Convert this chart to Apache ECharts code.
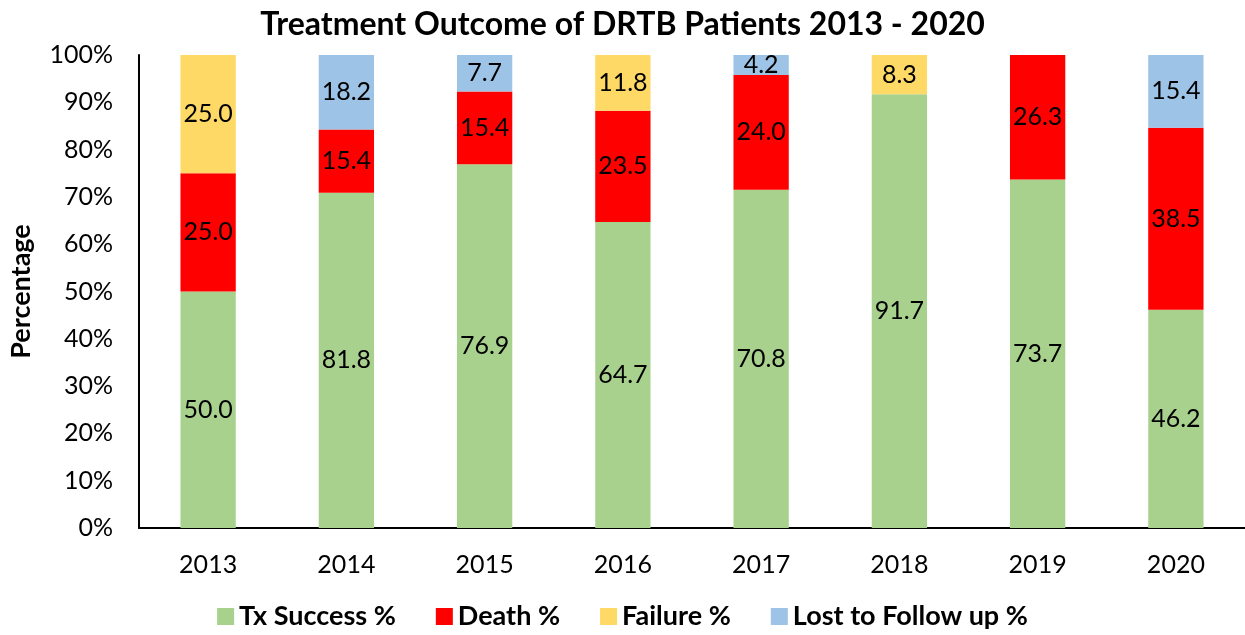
<!DOCTYPE html>
<html><head><meta charset="utf-8">
<script src="https://cdn.jsdelivr.net/npm/echarts@6/dist/echarts.min.js"></script>
<style>html,body{margin:0;padding:0;background:#fff}#c{width:1245px;height:635px}</style>
</head><body><div id="c"></div>
<script>
const categories = ['2013','2014','2015','2016','2017','2018','2019','2020'];
const txSuccess = [50.0, 81.8, 76.9, 64.7, 70.8, 91.7, 73.7, 46.2];
const death     = [25.0, 15.4, 15.4, 23.5, 24.0, null, 26.3, 38.5];
const failure   = [25.0, null, null, 11.8, null, 8.3, null, null];
const lost      = [null, 18.2, 7.7, null, 4.2, null, null, 15.4];
const seriesNames = ['Tx Success %','Death %','Failure %','Lost to Follow up %'];
const colors = ['#A9D18E','#FF0000','#FFD966','#9DC3E6'];
const raw = [txSuccess, death, failure, lost];
const totals = categories.map((c,i)=>raw.reduce((s,a)=>s+(a[i]||0),0));
const FONT = 'Lato';
const series = raw.map((arr,k)=>({
  name: seriesNames[k], type:'bar', stack:'total', barWidth:'40%',
  itemStyle:{color:colors[k]},
  data: arr.map((v,i)=> v==null ? null : v/totals[i]*100),
  label:{show:true, position:'inside', color:'#000', fontFamily:FONT, fontSize:25,
    formatter: p => { const v = arr[p.dataIndex]; return v==null ? '' : v.toFixed(1); }}
}));
const chart = echarts.init(document.getElementById('c'));
chart.setOption({
  animation:false,
  title:{text:'Treatment Outcome of DRTB Patients 2013 - 2020', left:'center', top:4,
    textStyle:{fontFamily:FONT, fontWeight:'bold', fontSize:32, color:'#000'}},
  legend:{bottom:0, left:'center', icon:'rect', itemWidth:17, itemHeight:17, itemGap:40,
    textStyle:{fontFamily:FONT, fontWeight:'bold', fontSize:27, color:'#000'}},
  grid:{left:138, right:0, top:55, bottom:107},
  xAxis:{type:'category', data:categories,
    axisLine:{lineStyle:{color:'#000', width:2}}, axisTick:{show:false},
    axisLabel:{fontFamily:FONT, fontSize:25, color:'#000', margin:24}},
  yAxis:{type:'value', min:0, max:100, interval:10,
    name:'Percentage', nameLocation:'middle', nameGap:104, nameRotate:90,
    nameTextStyle:{fontFamily:FONT, fontWeight:'bold', fontSize:27, color:'#000'},
    axisLine:{show:true, lineStyle:{color:'#000', width:2}}, axisTick:{show:false},
    splitLine:{show:false},
    axisLabel:{formatter:'{value}%', fontFamily:FONT, fontSize:25, color:'#000', margin:26}},
  series: series
});
</script></body></html>
